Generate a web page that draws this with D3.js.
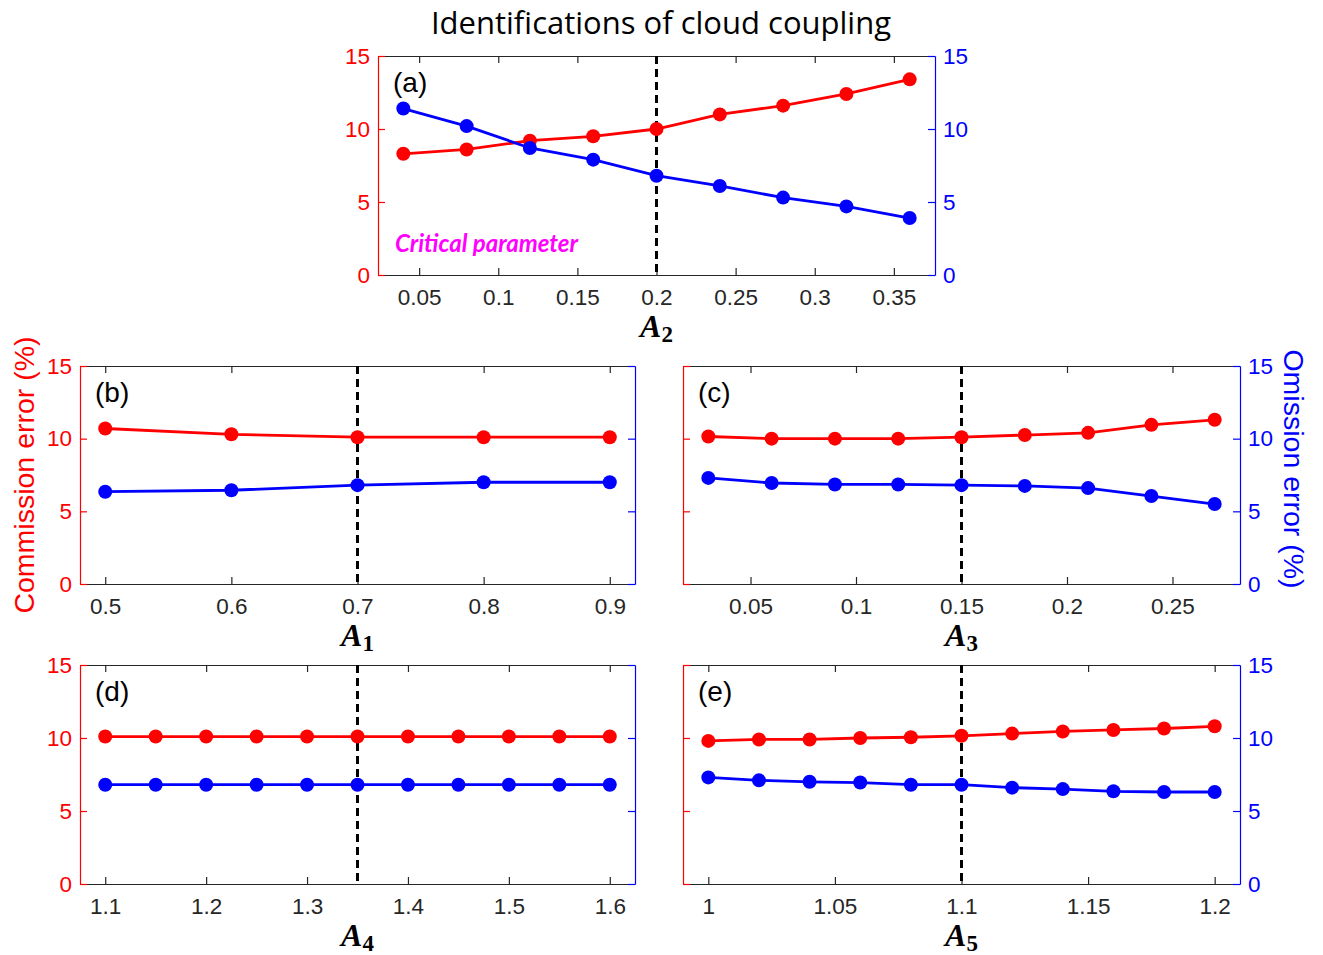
<!DOCTYPE html>
<html>
<head>
  <meta charset="utf-8">
  <title>Identifications of cloud coupling</title>
  <script src="https://d3js.org/d3.v7.min.js"></script>
  <style>
    body { margin: 0; background: #fff; }
    .tick text { font-family: "Liberation Sans", Arial, sans-serif; font-size: 22.5px; }
  </style>
</head>
<body>
  <div id="chart"></div>
  <script>
    // Data (errors in %)
    const xA2 = [0.04, 0.08, 0.12, 0.16, 0.20, 0.24, 0.28, 0.32, 0.36];
    const commA2 = [8.3, 8.6, 9.2, 9.5, 10.0, 11.0, 11.6, 12.4, 13.4];
    const omisA2 = [11.4, 10.2, 8.7, 7.9, 6.8, 6.1, 5.3, 4.7, 3.9];

    const xA1 = [0.5, 0.6, 0.7, 0.8, 0.9];
    const commA1 = [10.7, 10.3, 10.1, 10.1, 10.1];
    const omisA1 = [6.35, 6.45, 6.8, 7.0, 7.0];

    const xA3 = [0.03, 0.06, 0.09, 0.12, 0.15, 0.18, 0.21, 0.24, 0.27];
    const commA3 = [10.15, 10.0, 10.0, 10.0, 10.1, 10.25, 10.4, 10.95, 11.3];
    const omisA3 = [7.3, 6.95, 6.85, 6.85, 6.8, 6.75, 6.6, 6.05, 5.5];

    const xA4 = [1.1, 1.15, 1.2, 1.25, 1.3, 1.35, 1.4, 1.45, 1.5, 1.55, 1.6];
    const commA4 = [10.1, 10.1, 10.1, 10.1, 10.1, 10.1, 10.1, 10.1, 10.1, 10.1, 10.1];
    const omisA4 = [6.8, 6.8, 6.8, 6.8, 6.8, 6.8, 6.8, 6.8, 6.8, 6.8, 6.8];

    const xA5 = [1.0, 1.02, 1.04, 1.06, 1.08, 1.1, 1.12, 1.14, 1.16, 1.18, 1.2];
    const commA5 = [9.8, 9.9, 9.9, 10.0, 10.05, 10.15, 10.3, 10.45, 10.55, 10.65, 10.8];
    const omisA5 = [7.3, 7.1, 7.0, 6.95, 6.8, 6.8, 6.6, 6.5, 6.35, 6.3, 6.3];

    // tick values
    const ticksA2 = [0.05, 0.1, 0.15, 0.2, 0.25, 0.3, 0.35];
    const ticksA1 = [0.5, 0.6, 0.7, 0.8, 0.9];
    const ticksA3 = [0.05, 0.1, 0.15, 0.2, 0.25];
    const ticksA4 = [1.1, 1.2, 1.3, 1.4, 1.5, 1.6];
    const ticksA5 = [1, 1.05, 1.1, 1.15, 1.2];
    const yTicks = [0, 5, 10, 15];

    // chosen (critical) parameter values
    const critical = { a: 0.2, b: 0.7, c: 0.15, d: 1.35, e: 1.1 };

    const RED = "#ff0000", BLUE = "#0000ff", AXIS = "#262626";

    const panels = [
      { id: "a", sub: "2", x: xA2, comm: commA2, omis: omisA2, ticks: ticksA2,
        box: [378, 56, 935, 275], showLeft: true, showRight: true },
      { id: "b", sub: "1", x: xA1, comm: commA1, omis: omisA1, ticks: ticksA1,
        box: [80, 366, 635, 584], showLeft: true, showRight: false },
      { id: "c", sub: "3", x: xA3, comm: commA3, omis: omisA3, ticks: ticksA3,
        box: [683, 366, 1240, 584], showLeft: false, showRight: true },
      { id: "d", sub: "4", x: xA4, comm: commA4, omis: omisA4, ticks: ticksA4,
        box: [80, 665, 635, 884], showLeft: true, showRight: false },
      { id: "e", sub: "5", x: xA5, comm: commA5, omis: omisA5, ticks: ticksA5,
        box: [683, 665, 1240, 884], showLeft: false, showRight: true }
    ];

    const svg = d3.select("#chart")
      .append("svg")
        .attr("width", 1323)
        .attr("height", 955);

    // Title
    svg.append("text")
      .attr("x", 661)
      .attr("y", 34)
      .attr("text-anchor", "middle")
      .style("font-family", "'Open Sans', sans-serif")
      .style("font-size", "31px")
      .attr("fill", "#000")
      .text("Identifications of cloud coupling");

    panels.forEach(p => {
      const [x0, y0, x1, y1] = p.box;
      const ext = d3.extent(p.x);
      const pad = (ext[1] - ext[0]) * 0.05;
      const xScale = d3.scaleLinear().domain([ext[0] - pad, ext[1] + pad]).range([x0, x1]);
      const yScale = d3.scaleLinear().domain([0, 15]).range([y1, y0]);

      const g = svg.append("g");

      // top axis (ticks only)
      g.append("g")
        .attr("transform", `translate(0, ${y0})`)
        .call(d3.axisTop(xScale).tickValues(p.ticks).tickSize(-7).tickSizeOuter(0).tickFormat(""))
        .call(a => a.selectAll("path, line").attr("stroke", AXIS).attr("stroke-width", 1.2));

      // bottom axis
      g.append("g")
        .attr("transform", `translate(0, ${y1})`)
        .call(d3.axisBottom(xScale).tickValues(p.ticks).tickSize(-7).tickSizeOuter(0)
          .tickPadding(14).tickFormat(d => String(d)))
        .call(a => a.selectAll("path, line").attr("stroke", AXIS).attr("stroke-width", 1.2))
        .call(a => a.selectAll("text").attr("fill", AXIS));

      // left axis (commission, red)
      g.append("g")
        .attr("transform", `translate(${x0}, 0)`)
        .call(d3.axisLeft(yScale).tickValues(yTicks).tickSize(-7).tickSizeOuter(0)
          .tickPadding(8).tickFormat(p.showLeft ? d => d : ""))
        .call(a => a.selectAll("path, line").attr("stroke", RED).attr("stroke-width", 1.2))
        .call(a => a.selectAll("text").attr("fill", RED));

      // right axis (omission, blue)
      g.append("g")
        .attr("transform", `translate(${x1}, 0)`)
        .call(d3.axisRight(yScale).tickValues(yTicks).tickSize(-7).tickSizeOuter(0)
          .tickPadding(8).tickFormat(p.showRight ? d => d : ""))
        .call(a => a.selectAll("path, line").attr("stroke", BLUE).attr("stroke-width", 1.2))
        .call(a => a.selectAll("text").attr("fill", BLUE));

      // critical parameter dashed line
      const cx = xScale(critical[p.id]);
      g.append("line")
        .attr("x1", cx).attr("x2", cx)
        .attr("y1", y0).attr("y2", y1)
        .attr("stroke", "#000")
        .attr("stroke-width", 3)
        .attr("stroke-dasharray", "8,5");

      // series
      const series = [
        { vals: p.comm, color: RED },
        { vals: p.omis, color: BLUE }
      ];
      series.forEach(s => {
        const pts = p.x.map((xv, i) => [xv, s.vals[i]]);
        g.append("path")
          .datum(pts)
          .attr("fill", "none")
          .attr("stroke", s.color)
          .attr("stroke-width", 2.8)
          .attr("d", d3.line().x(d => xScale(d[0])).y(d => yScale(d[1])));
        g.selectAll(null)
          .data(pts)
          .enter().append("circle")
            .attr("cx", d => xScale(d[0]))
            .attr("cy", d => yScale(d[1]))
            .attr("r", 7)
            .attr("fill", s.color);
      });

      // panel letter
      g.append("text")
        .attr("x", x0 + 15)
        .attr("y", y0 + 36)
        .style("font-family", "'Liberation Sans', Arial, sans-serif")
        .style("font-size", "28px")
        .attr("fill", "#000")
        .text(`(${p.id})`);

      // x label  A_n
      const xl = g.append("text")
        .attr("x", (x0 + x1) / 2)
        .attr("y", y1 + 62)
        .attr("text-anchor", "middle")
        .style("font-family", "'Liberation Serif', 'DejaVu Serif', serif")
        .style("font-weight", "bold")
        .attr("fill", "#000");
      xl.append("tspan")
        .style("font-size", "32px")
        .style("font-style", "italic")
        .text("A");
      xl.append("tspan")
        .attr("dy", 5)
        .style("font-size", "23px")
        .text(p.sub);
    });

    // annotation in panel (a)
    svg.append("text")
      .attr("x", 395)
      .attr("y", 252)
      .style("font-family", "Lato, sans-serif")
      .style("font-weight", "bold")
      .style("font-style", "italic")
      .style("font-size", "24px")
      .attr("fill", "#ff00ff")
      .text("Critical parameter");

    // shared y labels
    svg.append("text")
      .attr("transform", "translate(34, 475) rotate(-90)")
      .attr("text-anchor", "middle")
      .style("font-family", "'Liberation Sans', Arial, sans-serif")
      .style("font-size", "28.5px")
      .attr("fill", RED)
      .text("Commission error (%)");

    svg.append("text")
      .attr("transform", "translate(1284, 469) rotate(90)")
      .attr("text-anchor", "middle")
      .style("font-family", "'Liberation Sans', Arial, sans-serif")
      .style("font-size", "28.5px")
      .attr("fill", BLUE)
      .text("Omission error (%)");
  </script>
</body>
</html>
